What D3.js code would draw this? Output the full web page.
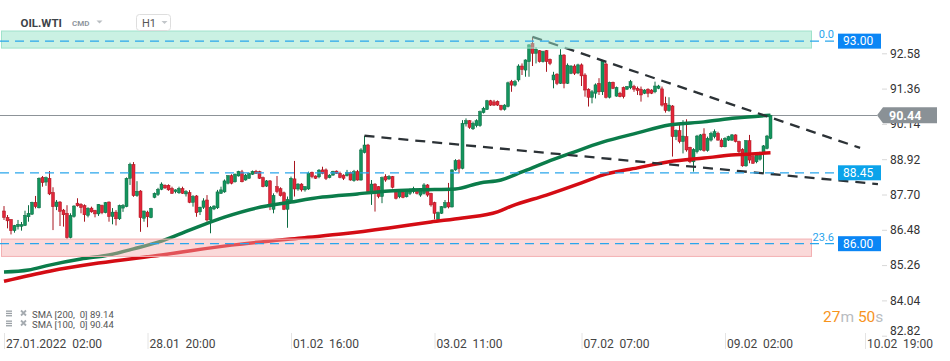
<!DOCTYPE html>
<html><head><meta charset="utf-8">
<script src="https://cdn.jsdelivr.net/npm/d3@7"></script>
<style>
html,body{margin:0;padding:0;background:#fff;}
svg{display:block;font-family:Roboto,"Noto Sans",sans-serif;}
</style></head><body>
<svg id="chart" width="950" height="361"></svg>
<script>
// ---------------- DATA ----------------
const open = [
87.13,86.91,86.84,86.45,86.59,86.60,86.63,86.93,87.02,87.43,
87.24,88.29,88.13,88.26,87.77,87.28,87.44,87.16,87.05,86.21,
86.94,87.40,87.36,87.32,86.98,87.23,87.15,87.03,87.32,87.07,
87.44,86.94,87.09,86.86,87.23,87.28,88.26,88.74,87.66,87.82,
86.88,87.09,86.90,87.60,87.70,87.88,88.02,88.02,87.91,87.80,
87.76,87.91,87.72,87.77,87.43,87.65,87.10,87.26,87.51,86.82,
87.20,87.24,87.74,87.79,88.09,88.35,88.14,88.34,88.48,88.20,
88.26,88.40,88.50,88.49,88.28,87.99,88.17,87.19,87.97,87.90,
87.76,87.19,87.48,88.24,87.89,88.06,87.86,87.89,88.47,88.34,
88.31,88.55,88.55,88.28,88.37,88.51,88.43,88.37,88.35,88.46,
88.18,88.49,88.20,89.15,89.41,87.74,88.06,87.97,87.63,88.32,
88.24,88.32,87.80,87.62,87.78,87.62,87.74,87.80,87.88,87.68,
87.74,88.03,87.74,87.42,86.84,87.05,87.25,87.42,87.27,88.55,
88.87,88.60,90.14,90.25,89.97,90.08,90.08,90.53,90.64,90.94,
90.90,90.92,90.78,90.64,90.74,91.60,91.48,91.66,92.14,92.00,
92.29,92.92,92.58,92.67,92.29,92.67,92.37,91.66,91.86,91.54,
92.52,91.54,91.89,92.14,91.90,92.18,91.83,91.34,91.06,91.20,
91.54,91.25,92.21,91.06,91.58,91.10,91.20,91.40,91.34,91.39,
91.43,91.37,91.34,91.20,91.34,91.31,91.25,91.37,91.35,90.85,
90.60,90.76,89.70,89.91,89.53,89.70,89.33,88.83,89.18,89.24,
89.79,89.22,89.58,89.70,89.81,89.58,89.35,89.58,89.58,89.76,
89.53,89.26,88.69,89.56,89.01,88.83,88.92,89.12,89.29,89.64];
const high = [
87.30,86.99,86.84,86.65,86.82,86.75,87.14,87.33,87.45,87.65,
88.29,88.34,88.32,88.51,87.95,87.51,87.47,87.20,87.33,87.05,
87.33,87.57,87.40,87.36,87.26,87.28,87.17,87.37,87.35,87.44,
87.46,87.23,87.16,87.35,87.37,88.29,88.80,88.82,88.16,87.85,
87.14,87.14,87.24,87.77,87.93,88.12,88.05,88.05,87.97,87.88,
87.97,87.97,87.85,87.85,87.68,87.68,87.28,87.57,87.68,87.30,
87.33,87.86,87.97,88.22,88.37,88.40,88.43,88.52,88.55,88.41,
88.46,88.53,88.55,88.52,88.32,88.20,88.20,87.74,88.34,87.95,
87.80,87.63,88.32,88.86,88.09,88.09,87.99,88.49,88.49,88.36,
88.58,88.66,88.60,88.40,88.52,88.53,88.49,88.40,88.55,88.49,
88.55,88.55,89.30,89.73,89.45,88.20,88.09,87.99,88.32,88.40,
88.37,88.34,87.83,87.83,87.81,87.83,87.91,87.97,87.91,87.91,
88.09,88.06,87.76,87.45,87.11,87.30,87.51,88.10,88.57,88.92,
88.92,90.27,90.33,90.27,90.22,90.30,90.60,90.73,90.97,90.97,
90.97,90.95,90.80,90.82,91.60,91.66,91.66,92.20,92.23,92.37,
92.90,93.15,92.79,92.69,92.67,92.69,92.40,91.94,91.89,92.72,
92.55,92.23,92.17,92.20,92.22,92.23,91.89,91.37,91.31,91.54,
91.72,92.35,92.26,91.60,91.60,91.43,91.25,91.43,91.45,91.66,
91.49,91.43,91.43,91.34,91.37,91.34,91.60,91.49,91.43,91.08,
91.06,90.79,89.95,90.10,90.27,90.30,89.35,89.30,89.76,89.79,
89.99,89.70,89.87,89.95,89.87,89.64,89.68,89.73,89.79,89.78,
89.56,89.30,89.58,89.76,89.07,89.12,89.18,89.41,89.76,90.45];
const low = [
86.82,86.53,86.32,86.38,86.49,86.45,86.61,86.76,86.99,87.22,
87.22,87.97,88.00,87.68,86.47,87.16,86.61,86.59,86.16,86.18,
86.90,87.28,87.05,86.76,86.91,87.07,86.91,86.96,87.02,87.05,
86.76,86.67,86.63,86.82,87.10,87.26,88.03,87.62,87.62,86.41,
86.76,86.57,86.88,87.57,87.65,87.85,87.89,87.83,87.72,87.74,
87.72,87.72,87.63,87.40,87.28,86.93,86.99,87.20,86.76,86.36,
87.16,87.20,87.72,87.76,88.05,88.05,88.11,88.32,88.12,88.18,
88.24,88.38,88.41,88.24,87.95,87.96,87.16,87.05,87.74,87.63,
87.16,86.55,87.43,87.63,87.83,87.80,87.80,87.86,88.26,88.24,
88.26,88.40,88.20,88.26,88.35,88.41,88.26,88.20,88.32,88.18,
88.14,88.18,88.18,89.12,87.74,87.34,87.11,87.57,87.40,88.14,
88.20,87.91,87.53,87.57,87.57,87.60,87.68,87.74,87.70,87.62,
87.70,87.62,87.28,86.84,86.82,87.03,87.22,87.22,87.25,88.52,
88.43,88.57,90.05,89.97,89.93,90.02,90.04,90.50,90.62,90.76,
90.76,90.76,90.60,90.60,90.71,91.25,91.43,91.60,91.83,91.77,
91.77,92.14,92.23,92.26,92.26,91.94,92.17,91.37,91.48,91.52,
91.37,91.52,91.86,91.83,91.86,91.45,91.08,90.74,90.85,91.02,
91.14,91.14,91.02,91.02,91.34,91.08,91.06,91.02,91.31,91.34,
91.25,91.14,90.91,91.17,91.06,91.17,91.20,91.34,90.74,90.53,
90.56,89.01,89.58,89.47,89.12,89.18,88.78,88.49,89.12,89.22,
89.18,89.18,89.53,89.64,89.56,89.33,89.33,89.55,89.55,89.50,
89.07,88.66,88.66,88.78,88.76,88.78,88.87,88.43,89.26,89.61];
const close = [
86.91,86.79,86.45,86.63,86.67,86.66,86.98,87.05,87.43,87.28,
88.26,88.11,88.28,87.72,87.28,87.44,87.12,87.00,86.21,86.98,
87.30,87.31,87.25,87.00,87.22,87.10,87.03,87.36,87.07,87.42,
86.94,87.09,86.86,87.32,87.32,88.26,88.74,87.66,87.81,86.90,
87.13,86.93,87.22,87.74,87.88,88.06,87.93,87.86,87.74,87.86,
87.91,87.74,87.80,87.43,87.63,87.07,87.26,87.48,86.82,87.26,
87.30,87.79,87.86,88.17,88.35,88.09,88.40,88.50,88.14,88.37,
88.43,88.50,88.43,88.26,87.97,88.17,87.30,87.67,87.80,87.66,
87.19,87.53,88.26,87.89,88.06,87.86,87.97,88.44,88.32,88.26,
88.54,88.43,88.26,88.37,88.50,88.43,88.29,88.26,88.47,88.20,
88.49,88.20,89.24,89.41,87.80,88.06,87.74,87.63,88.28,88.20,
88.32,87.95,87.57,87.80,87.60,87.80,87.88,87.91,87.74,87.88,
88.03,87.68,87.34,87.05,87.07,87.28,87.42,87.27,88.55,88.87,
88.60,90.16,90.25,90.02,90.16,90.25,90.56,90.68,90.94,90.79,
90.79,90.79,90.64,90.79,91.56,91.48,91.60,92.14,92.02,92.35,
92.87,92.58,92.72,92.29,92.64,92.29,92.23,91.83,91.54,92.52,
91.54,92.17,92.14,91.89,92.18,91.80,91.31,91.06,91.25,91.49,
91.25,92.33,91.06,91.58,91.37,91.40,91.08,91.08,91.43,91.60,
91.34,91.29,91.14,91.31,91.20,91.20,91.45,91.45,90.79,90.60,
90.79,89.70,89.91,89.53,89.72,89.24,88.83,89.26,89.72,89.76,
89.22,89.64,89.81,89.87,89.58,89.35,89.64,89.70,89.76,89.53,
89.18,88.69,89.56,88.89,88.78,89.07,89.12,89.38,89.72,90.44];

// SMA 100 (green) read at candle indices
const sma100Idx = [0,7,13,22,30,37,45,53,63,72,82,91,101,110,119,129,136,142,148,155,162,171,181,190,200,209,219];
const sma100    = [85.02,85.09,85.26,85.47,85.61,85.82,86.09,86.47,86.92,87.23,87.44,87.61,87.72,87.82,87.86,87.89,88.10,88.20,88.48,88.82,89.13,89.51,89.83,90.10,90.21,90.34,90.44];
// SMA 200 (red)
const sma200Idx = [0,13,27,45,65,85,97,110,122,131,141,145,155,165,171,181,190,200,209,219];
const sma200    = [84.70,85.05,85.33,85.61,85.95,86.20,86.34,86.54,86.75,86.89,87.10,87.30,87.68,88.10,88.37,88.62,88.83,88.96,89.07,89.14];

// trend lines: [index, price]
const trendUpper = [[151,93.15],[244.6,89.31]];
const trendLower = [[103,89.73],[249.7,88.06]];

// zones
const zoneTop    = [93.35, 86.16];
const zoneBottom = [92.76, 85.56];

// levels
const levelValues = [93.00, 88.45, 86.00];
const levelFib    = ["0.0", "", "23.6"];

const lastPrice = 90.44;
const yTicks = [92.58, 91.36, 90.14, 88.92, 87.70, 86.48, 85.26, 84.04, 82.82];
const xTickIdx = [0, 41, 82, 123, 165, 206, 246];
const xTickLabels = ["27.01.2022  02:00","28.01  20:00","01.02  16:00","03.02  11:00","07.02  07:00","09.02  02:00","10.02  19:00"];

// ---------------- DRAW ----------------
const svg = d3.select("#chart");
const x = d3.scaleLinear().domain([0, 247]).range([4, 868.5]);
const y = d3.scaleLinear().domain([82.82, 92.58]).range([335.7, 53.3]);

// last price line
const ly = Math.round(y(lastPrice)) + 0.5;
svg.append("line").attr("x1",0).attr("x2",877).attr("y1",ly).attr("y2",ly)
  .attr("stroke","#8d9398").attr("stroke-width",1);

// candles
const candles = close.map((c,i)=>({i, o:open[i], h:high[i], l:low[i], c}));
const up = d => d.c >= d.o;
const gc = svg.append("g");
gc.selectAll("line").data(candles).join("line")
  .attr("x1",d=>x(d.i)).attr("x2",d=>x(d.i))
  .attr("y1",d=>y(d.h)).attr("y2",d=>y(d.l))
  .attr("stroke",d=>up(d)?"#0c6c43":"#a8151f").attr("stroke-width",1);
gc.selectAll("rect").data(candles).join("rect")
  .attr("x",d=>x(d.i)-1.5).attr("width",3)
  .attr("y",d=>y(Math.max(d.o,d.c)))
  .attr("height",d=>Math.max(1, Math.abs(y(d.o)-y(d.c))))
  .attr("fill",d=>up(d)?"#14945e":"#e2263a")
  .attr("stroke",d=>up(d)?"#0c6c43":"#a8151f").attr("stroke-width",0.5);

// SMA lines
const lineGen = d3.line().x(d=>x(d[0])).y(d=>y(d[1])).curve(d3.curveMonotoneX);
svg.append("path").datum(sma100Idx.map((k,j)=>[k, sma100[j]]))
  .attr("d",lineGen).attr("fill","none").attr("stroke","#0b7c4a").attr("stroke-width",3.5)
  .attr("stroke-linejoin","round");
svg.append("path").datum(sma200Idx.map((k,j)=>[k, sma200[j]]))
  .attr("d",lineGen).attr("fill","none").attr("stroke","#d40c14").attr("stroke-width",3.5)
  .attr("stroke-linejoin","round");

// trend lines
const straight = d3.line().x(d=>x(d[0])).y(d=>y(d[1]));
[trendUpper, trendLower].forEach(t=>{
  svg.append("path").datum(t).attr("d",straight).attr("fill","none")
    .attr("stroke","#2c3236").attr("stroke-width",2.3).attr("stroke-dasharray","10,7");
});

// zones (translucent, on top)
const zoneFill = ["rgba(150,228,200,0.5)","rgba(245,170,170,0.45)"];
const zoneStroke = ["#9fe2cb","#f3b0b2"];
zoneTop.forEach((t,k)=>{
  svg.append("rect").attr("x",1.5).attr("width",810)
    .attr("y",y(t)).attr("height",y(zoneBottom[k])-y(t))
    .attr("fill",zoneFill[k]).attr("stroke",zoneStroke[k]).attr("stroke-width",1);
});

// level dashed lines + labels
const boxColor = ["#0b86f5","#0ba3ea","#0b86f5"];
levelValues.forEach((v,k)=>{
  const yy = y(v);
  svg.append("line").attr("x1",0).attr("x2",838).attr("y1",yy).attr("y2",yy)
    .attr("stroke","#2aa6ec").attr("stroke-width",1.2).attr("stroke-dasharray","9,6");
  if (levelFib[k]) {
    svg.append("text").attr("x",834).attr("y",yy-3).attr("text-anchor","end")
      .attr("fill","#2aa3ec").style("font-size","11px").text(levelFib[k]);
  }
  svg.append("rect").attr("x",838).attr("y",yy-7.5).attr("width",43).attr("height",15)
    .attr("fill",boxColor[k]);
  svg.append("text").attr("x",843).attr("y",yy).attr("dy","0.35em")
    .attr("fill","#fff").style("font-size","12px").text(v.toFixed(2));
});

// y axis
const yAxis = d3.axisRight(y).tickValues(yTicks).tickFormat(d3.format(".2f")).tickSize(5).tickPadding(3);
const ga = svg.append("g").attr("transform","translate(882,0)").call(yAxis)
  .attr("font-family","Roboto").attr("font-size",12);
ga.select(".domain").remove();
ga.selectAll(".tick line").attr("stroke","#d8d8d8");
ga.selectAll(".tick text").attr("fill","#333");
ga.selectAll(".tick").filter(d=>d===yTicks[yTicks.length-1]).select("text").attr("y",-5);

// last price tag
const ty = y(lastPrice);
svg.append("path")
  .attr("d",`M877,${ty} L883,${ty-8} L937,${ty-8} L937,${ty+8} L883,${ty+8} Z`)
  .attr("fill","#8a9196");
svg.append("text").attr("x",889).attr("y",ty).attr("dy","0.36em")
  .attr("fill","#fff").style("font-size","12.5px").style("font-weight","bold")
  .text(lastPrice.toFixed(2));

// x axis
const xAxis = d3.axisBottom(x).tickValues(xTickIdx).tickFormat((d,i)=>xTickLabels[i]).tickSize(16);
const gx = svg.append("g").attr("transform","translate(0,333)").call(xAxis)
  .attr("font-family","Roboto").attr("font-size",12);
gx.select(".domain").remove();
gx.selectAll(".tick line").attr("stroke","#e4e4e4");
gx.selectAll(".tick text").attr("text-anchor","start").attr("x",1.5).attr("y",14.5).attr("dy",null)
  .attr("fill","#444").style("white-space","pre");

// header
svg.append("text").attr("x",20.5).attr("y",27).attr("fill","#3d4349")
  .style("font-size","11.5px").style("font-weight","bold").text("OIL.WTI");
svg.append("text").attr("x",72).attr("y",26).attr("fill","#8f979e")
  .style("font-size","8px").style("font-weight","bold").text("CMD");
svg.append("path").attr("d","M96.5,20.5 L102.5,20.5 L99.5,23.5 Z").attr("fill","#b9bec2");
svg.append("rect").attr("x",136.5).attr("y",14.5).attr("width",34).attr("height",16).attr("rx",3)
  .attr("fill","#fff").attr("stroke","#dedede");
svg.append("text").attr("x",142).attr("y",26.5).attr("fill","#555")
  .style("font-size","11px").text("H1");
svg.append("path").attr("d","M161.5,21 L167.5,21 L164.5,24 Z").attr("fill","#c2c6ca");

// legend
const legend = [["SMA [200,  0] ", sma200[sma200.length-1]], ["SMA [100,  0] ", sma100[sma100.length-1]]];
legend.forEach((l,k)=>{
  const by = 317.5 + k*10;
  const gi = svg.append("g").attr("fill","#9aa0a5");
  gi.append("rect").attr("x",6).attr("y",by-7).attr("width",6).attr("height",1.3);
  gi.append("rect").attr("x",6).attr("y",by-4.7).attr("width",6).attr("height",1.3);
  gi.append("rect").attr("x",6).attr("y",by-2.4).attr("width",6).attr("height",1.3);
  svg.append("path").attr("d",`M21,${by-7} L26,${by-2} M26,${by-7} L21,${by-2}`)
    .attr("stroke","#a5abb0").attr("stroke-width",1.8);
  svg.append("text").attr("x",32).attr("y",by).attr("fill","#555")
    .style("font-size","9.5px").style("white-space","pre")
    .text(l[0] + l[1].toFixed(2));
});

// countdown
const cd = svg.append("text").attr("x",823).attr("y",321.5).style("font-size","15.5px");
cd.append("tspan").attr("fill","#f7941d").text("27");
cd.append("tspan").attr("fill","#b9bcbf").text("m ");
cd.append("tspan").attr("fill","#f7941d").text("50");
cd.append("tspan").attr("fill","#b9bcbf").text("s");
</script>
</body></html>
